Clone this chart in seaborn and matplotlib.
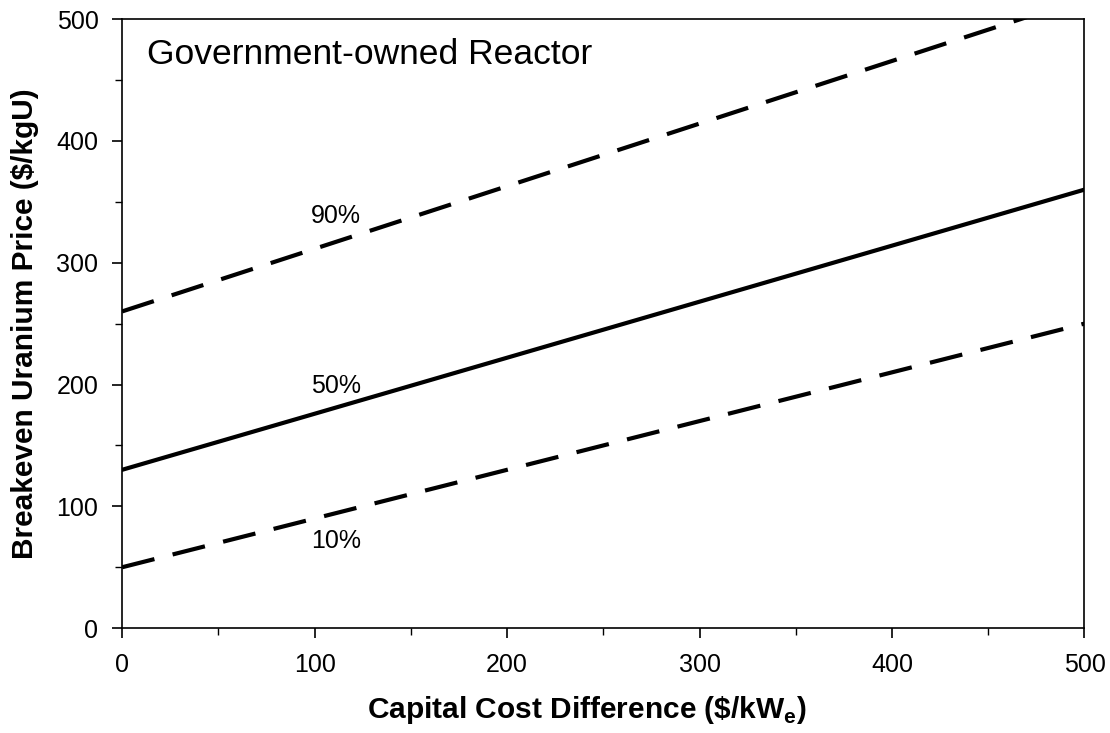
import matplotlib
matplotlib.use('Agg')
import matplotlib.pyplot as plt
from matplotlib.ticker import MultipleLocator
import pandas as pd
import seaborn as sns

# capital cost difference ($/kWe)
cost = [0, 500]
# breakeven uranium price ($/kgU) for each percentile
p10 = [50, 250]
p50 = [130, 360]
p90 = [260, 517]

labels = ['10%', '50%', '90%']
label_x = [111, 111, 111]
label_y = [66, 193, 333]

df = pd.DataFrame({'cost': cost * 3,
                   'price': p10 + p50 + p90,
                   'pct': ['10%'] * 2 + ['50%'] * 2 + ['90%'] * 2})

sns.set_style('ticks')
plt.rcParams['font.family'] = ['Liberation Sans', 'DejaVu Sans']
plt.rcParams['mathtext.fontset'] = 'custom'
plt.rcParams['mathtext.rm'] = 'Liberation Sans'
plt.rcParams['mathtext.bf'] = 'Liberation Sans:bold'
plt.rcParams['text.color'] = 'black'
plt.rcParams['axes.labelcolor'] = 'black'
plt.rcParams['xtick.color'] = 'black'
plt.rcParams['ytick.color'] = 'black'

fig = plt.figure(figsize=(11.1, 7.33), dpi=100)
ax = fig.add_axes([0.110, 0.143, 0.867, 0.831])

sns.lineplot(data=df, x='cost', y='price', hue='pct', style='pct',
             palette=['black'] * 3,
             dashes={'10%': (8, 4.5), '50%': '', '90%': (8, 4.5)},
             linewidth=3, legend=False, ax=ax)

for lab, lx, ly in zip(labels, label_x, label_y):
    ax.text(lx, ly, lab, fontsize=18, ha='center', va='baseline')

ax.text(13, 463, 'Government-owned Reactor', fontsize=25.5, ha='left', va='baseline')

ax.set_xlim(0, 500)
ax.set_ylim(0, 500)
ax.xaxis.set_major_locator(MultipleLocator(100))
ax.xaxis.set_minor_locator(MultipleLocator(50))
ax.yaxis.set_major_locator(MultipleLocator(100))
ax.yaxis.set_minor_locator(MultipleLocator(50))
ax.tick_params(which='major', direction='out', length=7, width=1.2,
               labelsize=18)
ax.tick_params(axis='x', which='major', pad=11)
ax.tick_params(axis='y', which='major', pad=10)
ax.tick_params(which='minor', direction='out', length=5, width=1.0)
for s in ax.spines.values():
    s.set_linewidth(1.2)
    s.set_color('black')

ax.set_xlabel(r'Capital Cost Difference (\$/kW$_\mathbf{e}$)', fontsize=21.5,
              fontweight='bold')
ax.set_ylabel('Breakeven Uranium Price ($/kgU)', fontsize=21.5,
              fontweight='bold')
ax.xaxis.set_label_coords(0.483, -0.108)
ax.yaxis.set_label_coords(-0.086, 0.5)

fig.savefig('out.png', dpi=100)
